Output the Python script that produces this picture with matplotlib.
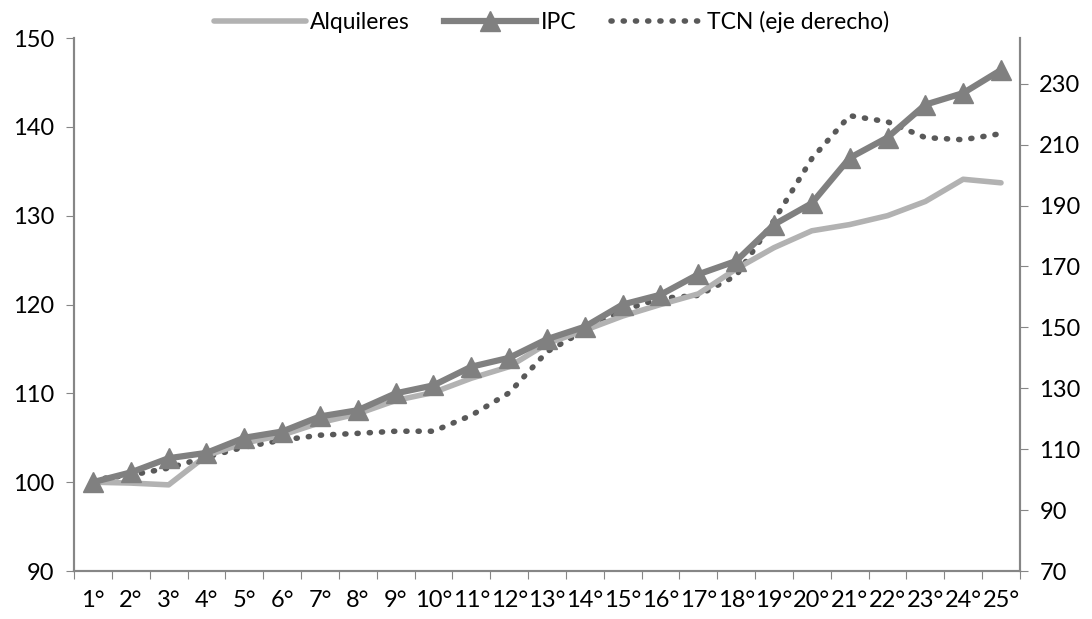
import matplotlib.pyplot as plt

plt.rcParams['font.family'] = ['Lato', 'DejaVu Sans']

# Periodos
periodos = [f'{i}°' for i in range(1, 26)]

# Índices (eje izquierdo)
alquileres = [100.0, 99.9, 99.7, 103.0, 104.4, 105.3, 106.7, 107.7, 109.2, 110.1,
              111.7, 113.0, 115.6, 117.1, 118.7, 120.0, 121.2, 124.0, 126.4, 128.3,
              129.0, 130.0, 131.6, 134.1, 133.7]
ipc = [100.0, 101.1, 102.7, 103.3, 105.0, 105.7, 107.4, 108.1, 110.0, 110.9,
       113.0, 114.0, 116.1, 117.5, 120.0, 121.1, 123.4, 124.9, 129.0, 131.4,
       136.5, 138.8, 142.5, 143.8, 146.4]

# TCN (eje derecho)
tcn = [100.0, 101.5, 103.8, 107.4, 110.7, 113.0, 114.6, 115.2, 115.9, 115.9,
       121.1, 128.5, 142.0, 149.0, 155.6, 159.5, 160.5, 167.0, 185.1, 205.4,
       219.5, 217.5, 212.3, 211.6, 213.6]

x = list(range(len(periodos)))
axis_gray = '#868686'

fig = plt.figure(figsize=(10.92, 6.19), dpi=100)
ax = fig.add_axes([0.0678, 0.0775, 0.8662, 0.8611])
ax2 = ax.twinx()

l1, = ax.plot(x, alquileres, color='#b2b2b2', lw=4, solid_capstyle='round',
              label='Alquileres', zorder=2)
l2, = ax.plot(x, ipc, color='#808080', lw=4.5, marker='^', markersize=14,
              label='IPC', zorder=3)
l3, = ax2.plot(x, tcn, color='#595959', lw=4, linestyle=(0, (0.2, 2.0)),
               dash_capstyle='round', label='TCN (eje derecho)')

ax.set_zorder(ax2.get_zorder() + 1)
ax.patch.set_visible(False)

ax.set_ylim(90, 150)
ax.set_yticks(range(90, 151, 10))
ax2.set_ylim(70, 245)
ax2.set_yticks(range(70, 231, 20))
ax.set_xlim(-0.5, 24.5)

# ticks de categoria en los limites, etiquetas al centro
ax.set_xticks([i - 0.5 for i in range(26)])
ax.set_xticklabels([])
ax.set_xticks(x, minor=True)
ax.set_xticklabels(periodos, minor=True)
ax.tick_params(axis='x', which='major', length=6, color=axis_gray, direction='out')
ax.tick_params(axis='x', which='minor', length=0, pad=14, labelsize=17)
ax.tick_params(axis='y', length=6, color=axis_gray, labelsize=17, pad=8)
ax2.tick_params(axis='y', length=6, color=axis_gray, labelsize=17, pad=8)

for a in (ax, ax2):
    a.spines['top'].set_visible(False)
    for s in ('left', 'right', 'bottom'):
        a.spines[s].set_color(axis_gray)
        a.spines[s].set_linewidth(1.5)

fig.legend(handles=[l1, l2, l3], loc='upper center', bbox_to_anchor=(0.505, 1.015),
           ncol=3, frameon=False, fontsize=16.5, handlelength=4.0, columnspacing=1.5,
           handletextpad=0.2)

fig.savefig('out.png', dpi=100)
